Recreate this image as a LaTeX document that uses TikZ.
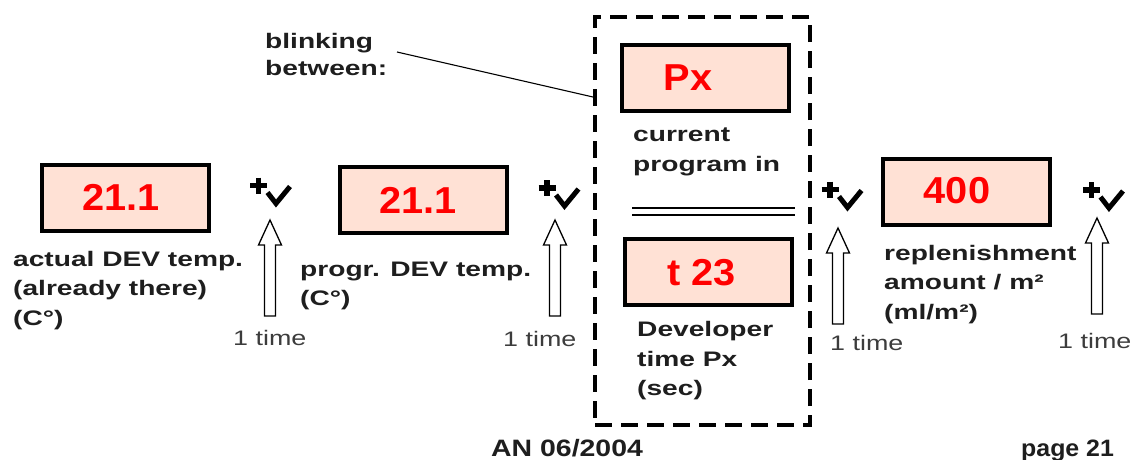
\documentclass[tikz,border=0pt]{standalone}
\usepackage{fontspec}
\setmainfont{Liberation Sans}
\newfontfamily\labfont[FakeStretch=1.34]{Liberation Sans}
\newfontfamily\numfont[FakeStretch=1.06]{Liberation Sans}
\newfontfamily\onefont[FakeStretch=1.28]{Liberation Sans}
\newfontfamily\footAfont[FakeStretch=1.2]{Liberation Sans}
\newfontfamily\footBfont[FakeStretch=1.05]{Liberation Sans}
\definecolor{boxfill}{RGB}{255,225,213}
\definecolor{numred}{RGB}{255,0,0}
\definecolor{labgray}{RGB}{30,30,30}
\definecolor{onegray}{RGB}{60,60,60}
\begin{document}
\begin{tikzpicture}[x=1pt,y=-1pt,
  valbox/.style={draw=black, line width=4pt, fill=boxfill, minimum width=167pt, minimum height=66pt, inner sep=0pt},
  valtext/.style={font=\numfont\bfseries\fontsize{37.5}{40}\selectfont, text=numred, inner sep=0pt},
  lab/.style={font=\labfont\bfseries\fontsize{21}{29.5}\selectfont, text=labgray, align=left, inner sep=0pt, anchor=base west},
  onetime/.style={font=\onefont\fontsize{21}{25}\selectfont, text=onegray, inner sep=0pt, anchor=base west},
  footer/.style={text=labgray, inner sep=0pt, anchor=base west},
  dashbox/.style={draw=black, line width=4pt, dash pattern=on 17pt off 9pt, minimum width=215pt, minimum height=408pt, inner sep=0pt},
  plusok/.pic={\draw[line width=5.5pt] (-8.5,0) -- (8.5,0) (0,-8) -- (0,8);
               \draw[line width=5pt, line join=miter] (9,7) -- (17.5,18) -- (31.5,1);},
  uparr/.pic={\draw[line width=1.3pt, fill=white, line join=miter] (-5.5,96) -- (-5.5,25) -- (-11.5,25) -- (0,0) -- (11.5,25) -- (5.5,25) -- (5.5,96) -- cycle;},
]
\useasboundingbox (0,0) rectangle (1135,459);
\fill[white] (0,0) rectangle (1135,459);

% dashed blinking frame
\node[dashbox] (blink) at (702.5,221) {};

% value boxes
\node[valbox] (b1) at (125.5,197.5) {};
\node[valtext] (v1) at (121,197) {21.1};
\node[valbox] (b2) at (423,199.5) {};
\node[valtext] (v2) at (418,200) {21.1};
\node[valbox] (bpx) at (705,78) {};
\node[valtext] (vpx) at (688,78) {Px};
\node[valbox] (bt) at (708,272) {};
\node[valtext] (vt) at (701.5,272.5) {t 23};
\node[valbox] (b4) at (966,191.5) {};
\node[valtext] (v4) at (957,191) {400};

% separator
\draw[line width=1.5pt] (632,208) -- (795,208);
\draw[line width=1.5pt] (632,215) -- (795,215);

% labels (base anchor = last line's baseline)
\node[lab] (l1) at (13,325) {actual DEV temp.\\(already there)\\(C°)};
\node[lab] (l2) at (300,305.5) {progr. DEV temp.\\(C°)};
\node[lab] (l3) at (633,171) {current\\program in};
\node[lab] (l4) at (637,395.5) {Developer\\time Px\\(sec)};
\node[lab] (l5) at (884,319) {replenishment\\amount / m²\\(ml/m²)};
\node[lab, font=\labfont\bfseries\fontsize{21}{27.5}\selectfont] (l6) at (265,75.5) {blinking\\between:};

% pointer line
\coordinate (ptrA) at (397,52);
\coordinate (ptrB) at (593,97);
\draw[line width=1.1pt] (ptrA) -- (ptrB);

% plus / ok symbols
\pic (s1) at (258.5,185.5) {plusok};
\pic (s2) at (547,188) {plusok};
\pic (s3) at (830,189.5) {plusok};
\pic (s4) at (1091.5,190) {plusok};

% up arrows
\pic (a1) at (270,220) {uparr};
\pic (a2) at (555,220) {uparr};
\pic (a3) at (838,228) {uparr};
\pic (a4) at (1097,218) {uparr};

% 1 time
\node[onetime] (t1) at (233,345) {1 time};
\node[onetime] (t2) at (503,346.5) {1 time};
\node[onetime] (t3) at (830,350) {1 time};
\node[onetime] (t4) at (1058,348) {1 time};

% footer
\node[footer, font=\footAfont\bfseries\fontsize{23.7}{28}\selectfont] (an) at (491,456.5) {AN 06/2004};
\node[footer, font=\footBfont\bfseries\fontsize{23.7}{28}\selectfont] (pg) at (1021,456.5) {page 21};
\end{tikzpicture}
\end{document}
